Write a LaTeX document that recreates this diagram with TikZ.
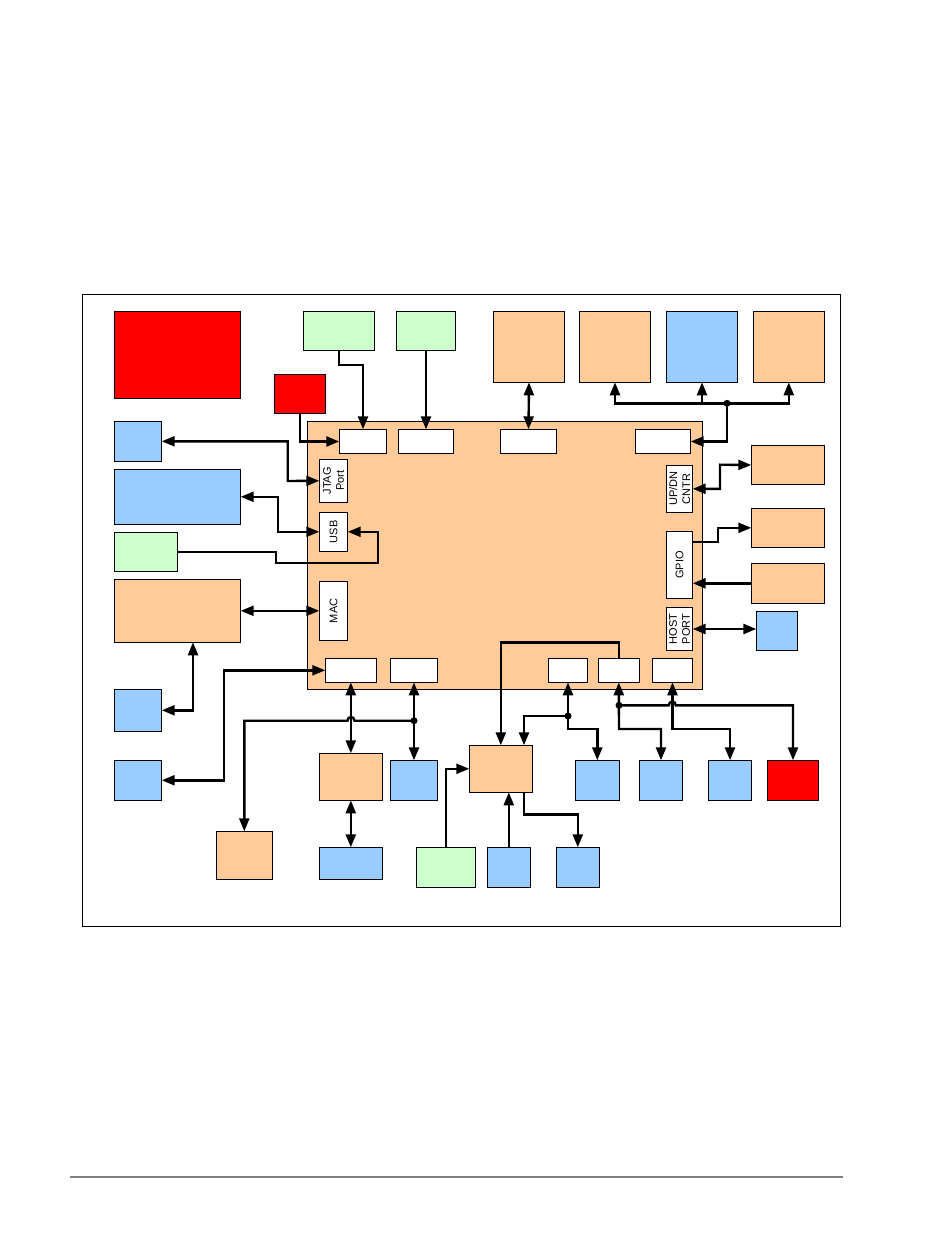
\documentclass[tikz,border=0pt]{standalone}
\usepackage{fontspec}
\setsansfont{Liberation Sans}
\usetikzlibrary{arrows.meta,fit}
\definecolor{cor}{HTML}{FFCC99}
\definecolor{cbl}{HTML}{99CCFF}
\definecolor{cgr}{HTML}{CCFFCC}
\definecolor{crd}{HTML}{FF0000}
\tikzset{
  blk/.style={draw=black, line width=1pt, inner sep=0pt, outer sep=0pt},
  conn/.style={line width=2.4pt},
  uni/.style={conn, -{Triangle[length=13pt,width=10pt]}},
  bi/.style={conn, {Triangle[length=13pt,width=10pt]}-{Triangle[length=13pt,width=10pt]}},
  jdot/.style={circle, fill=black, inner sep=0pt, minimum size=7pt},
  lbl/.style={rotate=90, align=center, font=\sffamily\fontsize{11}{13}\selectfont},
}
\newcommand\bx[6]{\node[blk, fill=#1, fit={(#3,#4) (#5,#6)}] (#2) {};}
\begin{document}
\begin{tikzpicture}[x=1pt,y=-1pt]
\useasboundingbox (0,0) rectangle (950,1246);
% frame and footer
\draw[line width=1pt] (82,295) rectangle (840,926);
\draw[line width=1.2pt, gray] (70,1177) -- (843,1177);
% top row
\bx{crd}{redbig}{114.3}{311}{240.7}{398}
\bx{crd}{redsm}{274.3}{374.3}{325.7}{413.3}
\bx{cgr}{gt1}{303.3}{311.3}{374.7}{350.3}
\bx{cgr}{gt2}{396.3}{311.3}{455.7}{350.3}
\bx{cor}{ot1}{493.3}{311.3}{564.7}{382.3}
\bx{cor}{ot2}{579.3}{311.3}{650.7}{382.3}
\bx{cbl}{bt}{666.3}{311.3}{737.7}{382.3}
\bx{cor}{ot4}{753.3}{311.3}{824.3}{382.3}
% chip
\bx{cor}{chip}{307.3}{421.3}{702.3}{689}
\bx{white}{pa}{339.3}{429.3}{386.7}{453.7}
\bx{white}{pb}{398.3}{429.3}{453.7}{453.7}
\bx{white}{pc}{500.3}{429.3}{556.7}{453.7}
\bx{white}{pd}{635.3}{429.3}{690.7}{453.7}
\bx{white}{jtag}{319.3}{459.3}{347.7}{502.3}
\bx{white}{usb}{319.3}{512.3}{347.7}{551.3}
\bx{white}{mac}{319.3}{581.3}{347.7}{640.3}
\bx{white}{updn}{666.7}{465.3}{692.7}{512.3}
\bx{white}{gpio}{666.7}{531.7}{692.7}{598.3}
\bx{white}{host}{666.7}{607.7}{692.7}{650.3}
\bx{white}{pe}{325.3}{658.3}{376.3}{682.3}
\bx{white}{pf}{390.3}{658.3}{437.7}{682.3}
\bx{white}{pg}{548.3}{658.3}{587.7}{682.3}
\bx{white}{ph}{598.3}{658.3}{639.3}{682.3}
\bx{white}{pi}{652.3}{658.3}{692.7}{682.3}
\node[lbl] (tjtag) at (jtag) {JTAG\\Port};
\node[lbl] (tusb) at (usb) {USB};
\node[lbl] (tmac) at (mac) {MAC};
\node[lbl] (tupdn) at (updn) {UP/DN\\CNTR};
\node[lbl] (tgpio) at (gpio) {GPIO};
\node[lbl] (thost) at (host) {HOST\\PORT};
% left column
\bx{cbl}{lb1}{114.3}{421.3}{161.7}{461.3}
\bx{cbl}{lbw}{114.3}{469.3}{240.7}{524.3}
\bx{cgr}{lg}{114.3}{532.3}{177.3}{571.3}
\bx{cor}{lo}{114.3}{579.3}{240.7}{642.3}
\bx{cbl}{lb2}{114.3}{689.3}{161.7}{731.3}
\bx{cbl}{lb3}{114.3}{760.3}{161.7}{800.3}
% right column
\bx{cor}{r1}{751.3}{445.7}{824.3}{484.3}
\bx{cor}{r2}{751.3}{508.3}{824.3}{547.3}
\bx{cor}{r3}{751.3}{563.3}{824.3}{603.3}
\bx{cbl}{r4}{756.3}{611.3}{797.7}{650.3}
% bottom
\bx{cor}{om}{319.3}{753.3}{382.3}{800.3}
\bx{cbl}{bf}{390.3}{760.3}{437.7}{800.3}
\bx{cor}{oc}{469.3}{745.3}{532.3}{792.3}
\bx{cbl}{bb1}{575.3}{760.3}{619.3}{800.3}
\bx{cbl}{bb2}{639.3}{760.3}{682.7}{800.3}
\bx{cbl}{bb3}{708.3}{760.3}{751.7}{800.3}
\bx{crd}{rb}{767.3}{760.3}{818.7}{800.3}
\bx{cor}{obl}{216.3}{831.3}{272.3}{879}
\bx{cbl}{bm}{319.3}{847.3}{382.3}{879}
\bx{cgr}{gb}{416.7}{847.3}{475.3}{887.3}
\bx{cbl}{bc1}{487.3}{847.3}{530.3}{887.3}
\bx{cbl}{bc2}{556.3}{847.3}{599.3}{887.3}
% junctions
\coordinate (j1) at (727,403.3);
\coordinate (j2) at (414,720.7);
\coordinate (j3) at (568,716);
\coordinate (j4) at (619,705.3);
% top connectors
\draw[uni] (gt1.south) -- ++(0,14.4) -| (pa.north);
\draw[uni] (gt2.south) -- (pb.north);
\draw[bi] (ot1.south) -- (pc.north);
\draw[uni] (j1) |- (pd.east);
\draw[uni] (j1) -| (ot2.south);
\draw[uni] (j1) -| (ot4.south);
\draw[uni] (bt.south |- j1) -- (bt.south);
\draw[uni] (redsm.south) |- (pa.west);
% left connectors
\draw[bi] (lb1.east) -| (287.7,481) -- (jtag.west);
\draw[bi] (lbw.east) -| (278,531.8) -- (usb.west);
\draw[uni] (lg.east) -| (275.7,562.7) -| (377.7,531.8) -- (usb.east);
\draw[bi] (lo.east) -- (mac.west);
\draw[bi] (lo.south -| 193,0) |- (lb2.east);
\draw[bi] (pe.west) -| (224,780.3) -- (lb3.east);
% bottom connectors
\draw[bi] (pe.south) -- (om.north);
\draw[bi] (pf.south) -- (bf.north);
\draw[uni] (j2) -- (354.5,720.7) .. controls (354.5,715.8) and (347.5,715.8) .. (347.5,720.7) -| (obl.north);
\draw[bi] (om.south) -- (bm.north);
\draw[uni] (ph.north) -- ++(0,-16) -| (oc.north);
\draw[bi] (pg.south) -- (568,729) -| (bb1.north);
\draw[uni] (j3) -| (oc.north -| 524,0);
\draw[bi] (ph.south) -- (619,729) -| (bb2.north);
\draw[uni] (j4) -- (668.8,705.3) .. controls (668.8,700.4) and (675.8,700.4) .. (675.8,705.3) -| (rb.north);
\draw[bi] (pi.south) -- (pi.south |- 0,729) -| (bb3.north);
\draw[uni] (gb.north) |- (oc.west);
\draw[uni] (bc1.north) -- (bc1.north |- oc.south);
\draw[uni] (oc.south -| 524,0) -- (524,814.3) -| (bc2.north);
% right connectors
\draw[bi] (updn.east) -| (720,464.7) -- (r1.west);
\draw[uni] (gpio.east |- 0,542) -| (717.7,527.8) -- (r2.west);
\draw[uni] (r3.west) -- (r3.west -| gpio.east);
\draw[bi] (host.east) -- (host.east -| r4.west);
% dots
\node[jdot] (d1) at (j1) {};
\node[jdot] (d2) at (j2) {};
\node[jdot] (d3) at (j3) {};
\node[jdot] (d4) at (j4) {};
\end{tikzpicture}
\end{document}
